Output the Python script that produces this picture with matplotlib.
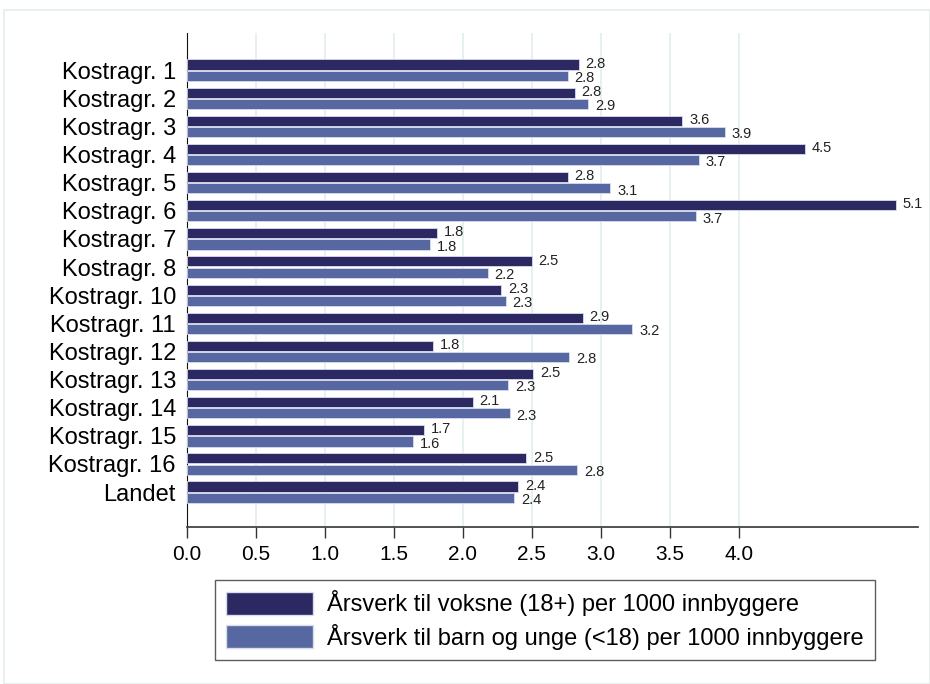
import numpy as np
import matplotlib.pyplot as plt
from matplotlib.patches import Rectangle, Patch

# data
groups = ["Kostragr. 1", "Kostragr. 2", "Kostragr. 3", "Kostragr. 4", "Kostragr. 5",
          "Kostragr. 6", "Kostragr. 7", "Kostragr. 8", "Kostragr. 10", "Kostragr. 11",
          "Kostragr. 12", "Kostragr. 13", "Kostragr. 14", "Kostragr. 15", "Kostragr. 16",
          "Landet"]
voksne = [2.84, 2.81, 3.59, 4.48, 2.76, 5.14, 1.81, 2.50, 2.28, 2.87,
          1.78, 2.51, 2.07, 1.72, 2.46, 2.40]
barn = [2.76, 2.91, 3.90, 3.71, 3.07, 3.69, 1.76, 2.18, 2.31, 3.23,
        2.77, 2.33, 2.34, 1.64, 2.83, 2.37]
label_voksne = "Årsverk til voksne (18+) per 1000 innbyggere"
label_barn = "Årsverk til barn og unge (<18) per 1000 innbyggere"
xticks = [0.0, 0.5, 1.0, 1.5, 2.0, 2.5, 3.0, 3.5, 4.0]

dark = "#2b2862"
light = "#5767a1"

plt.rcParams['font.family'] = ['Liberation Sans', 'DejaVu Sans']

fig = plt.figure(figsize=(9.3, 6.84), dpi=100)
# faint outer frame
fig.patches.append(Rectangle((4 / 930, 0), 926 / 930, 1 - 10 / 684, transform=fig.transFigure,
                             fill=False, edgecolor="#e3ecec", linewidth=1.2))
ax = fig.add_axes([187 / 930, 1 - 527 / 684, (918 - 187) / 930, (527 - 33) / 684])

n = len(groups)
y = np.arange(n)
h = 0.36
ax.barh(y - h / 2 - 0.02, voksne, height=h, color=dark, edgecolor="#d8dcec", linewidth=0.6, zorder=3)
ax.barh(y + h / 2 + 0.02, barn, height=h, color=light, edgecolor="#d8dcec", linewidth=0.6, zorder=3)

for i in range(n):
    ax.text(voksne[i] + 0.05, y[i] - h / 2 - 0.05, f"{voksne[i]:.1f}", va="center", ha="left",
            fontsize=10.5, color="#222222")
    ax.text(barn[i] + 0.05, y[i] + h / 2 + 0.1, f"{barn[i]:.1f}", va="center", ha="left",
            fontsize=10.5, color="#222222")

ax.set_ylim(n - 1 + 1.24, -1.32)
ax.set_xlim(0, 5.3)
ax.set_yticks(y)
ax.set_yticklabels(groups, fontsize=17)
ax.tick_params(axis="y", length=0, pad=8)
ax.set_xticks(xticks)
ax.set_xticklabels([f"{v:.1f}" for v in xticks], fontsize=15)
ax.tick_params(axis="x", length=8, width=1, color="#333333", pad=5)

ax.grid(axis="x", color="#e2ecef", linewidth=1.2, zorder=0)
ax.spines["top"].set_visible(False)
ax.spines["right"].set_visible(False)
ax.spines["left"].set_color("#111111")
ax.spines["bottom"].set_color("#444444")
ax.spines["bottom"].set_linewidth(1.3)

handles = [Patch(facecolor=dark, edgecolor="#d8dcec"), Patch(facecolor=light, edgecolor="#d8dcec")]
leg = fig.legend(handles, [label_voksne, label_barn], loc="center",
                 bbox_to_anchor=(545 / 930, 1 - 620 / 684), fontsize=17, frameon=True,
                 fancybox=False, edgecolor="#333333", handlelength=3.7, handleheight=1.1,
                 labelspacing=0.3, borderpad=0.45, handletextpad=0.6)
leg.get_frame().set_linewidth(1.0)

fig.savefig("out.png", dpi=100)
